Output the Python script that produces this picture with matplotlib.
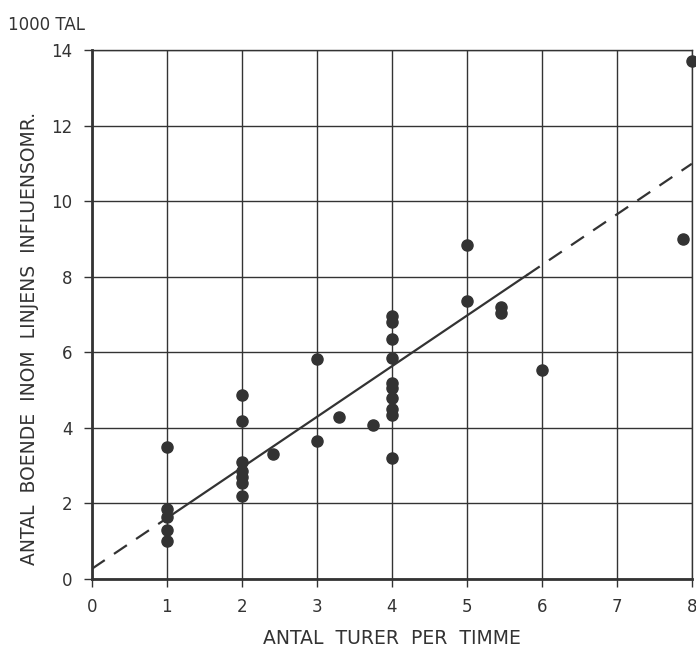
import matplotlib.pyplot as plt
import numpy as np

# departures per hour vs. residents (thousands) within line catchment
turer = [1, 1, 1, 1, 1,
         2, 2, 2, 2, 2, 2, 2,
         2.42, 3, 3, 3.3, 3.75,
         4, 4, 4, 4, 4, 4, 4, 4, 4, 4,
         5, 5, 5.45, 5.45, 6, 7.88, 8]
boende = [3.5, 1.85, 1.65, 1.3, 1.0,
          4.88, 4.18, 3.1, 2.85, 2.7, 2.55, 2.2,
          3.3, 3.65, 5.82, 4.3, 4.07,
          6.95, 6.8, 6.35, 5.85, 5.2, 5.05, 4.8, 4.5, 4.35, 3.2,
          8.85, 7.35, 7.2, 7.03, 5.52, 9.0, 13.7]

# fitted line: intercept and slope
intercept, slope = 0.27, 1.34
solid_from, solid_to = 1.0, 5.8

x_ticks = [0, 1, 2, 3, 4, 5, 6, 7, 8]
y_ticks = [0, 2, 4, 6, 8, 10, 12, 14]

ink = "#333333"
plt.rcParams['font.family'] = ['DejaVu Sans']

fig = plt.figure(figsize=(6.96, 6.60), dpi=100)
ax = fig.add_axes([0.132, 0.1227, 0.862, 0.8015])

ax.set_xlim(0, 8)
ax.set_ylim(0, 14)
ax.set_xticks(x_ticks)
ax.set_yticks(y_ticks)
ax.grid(True, color=ink, linewidth=1.0)
ax.set_axisbelow(True)

for side in ["left", "bottom"]:
    ax.spines[side].set_linewidth(2.0)
    ax.spines[side].set_color(ink)
for side in ["top", "right"]:
    ax.spines[side].set_linewidth(1.0)
    ax.spines[side].set_color(ink)

ax.tick_params(colors=ink, labelsize=12, length=6, width=1, pad=8)

# regression line: dashed outside the observed range, solid inside
xs_left = np.array([0, solid_from])
xs_mid = np.array([solid_from, solid_to])
xs_right = np.array([solid_to, 8])
ax.plot(xs_left, intercept + slope * xs_left, color=ink, lw=1.6,
        dashes=(7, 5))
ax.plot(xs_mid, intercept + slope * xs_mid, color=ink, lw=1.6)
ax.plot(xs_right, intercept + slope * xs_right, color=ink, lw=1.6,
        dashes=(7, 5))

ax.plot(turer, boende, "o", color=ink, markersize=8, clip_on=False,
        zorder=5)

ax.set_xlabel("ANTAL  TURER  PER  TIMME", fontsize=13.5, color=ink)
ax.set_ylabel("ANTAL  BOENDE  INOM  LINJENS  INFLUENSOMR.", fontsize=13.5,
              color=ink)
ax.xaxis.set_label_coords(0.5, -0.095)
ax.yaxis.set_label_coords(-0.088, 0.455)
fig.text(0.012, 0.962, "1000 TAL", fontsize=12, color=ink, va="center")

fig.savefig("out.png", dpi=100)
